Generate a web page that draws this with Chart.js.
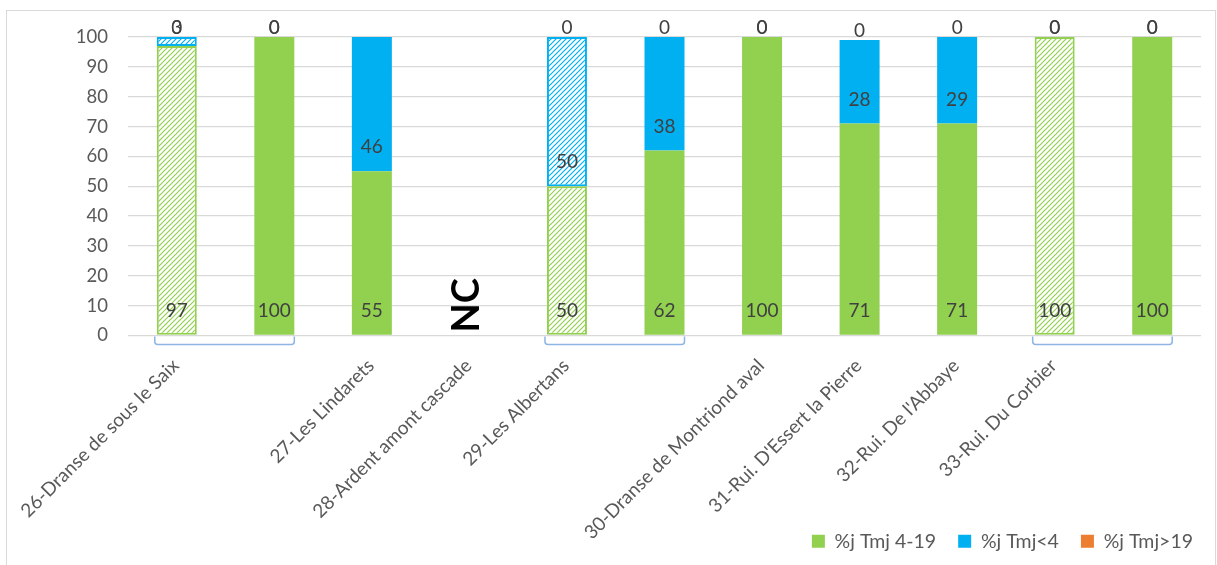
<!DOCTYPE html>
<html>
<head>
<meta charset="utf-8">
<script src="https://cdn.jsdelivr.net/npm/chart.js@4.4.1/dist/chart.umd.min.js"></script>
<style>
  html, body { margin: 0; padding: 0; background: #fff; }
  #frame { position: absolute; left: 6px; top: 10px; width: 1208px; height: 560px; border: 1px solid #d9d9d9; }
  #wrap { position: absolute; left: 0; top: 0; width: 1217px; height: 565px; }
</style>
</head>
<body>
<div id="frame"></div>
<div id="wrap"><canvas id="chart" width="1217" height="565"></canvas></div>
<script>
// stations (blank = second bar of the same station)
const categories = [
  '26-Dranse de sous le Saix', '', '27-Les Lindarets', '28-Ardent amont cascade',
  '29-Les Albertans', '', '30-Dranse de Montriond aval', "31-Rui. D'Essert la Pierre",
  "32-Rui. De l'Abbaye", '33-Rui. Du Corbier', ''
];
const pctMid  = [97, 100, 55, null, 50, 62, 100, 71, 71, 100, 100];   // %j Tmj 4-19
const pctCold = [3, 0, 46, null, 50, 38, 0, 28, 29, 0, 0];            // %j Tmj<4
const pctHot  = [0, 0, null, null, 0, 0, 0, 0, 0, 0, 0];              // %j Tmj>19
const hatched = [true, false, false, false, true, false, false, false, false, true, false];
const bracketGroups = [[0, 1], [4, 5], [9, 10]];
const seriesNames = ['%j Tmj 4-19', '%j Tmj<4', '%j Tmj>19'];
const seriesColors = ['#92D050', '#00B0F0', '#ED7D31'];
const missingText = 'NC';

const FONT = 'Lato, "Open Sans", sans-serif';

function hatch(color) {
  const c = document.createElement('canvas');
  c.width = 5; c.height = 5;
  const g = c.getContext('2d');
  g.fillStyle = '#fff';
  g.fillRect(0, 0, 5, 5);
  g.strokeStyle = color;
  g.lineWidth = 1.2;
  g.beginPath();
  g.moveTo(0, 5); g.lineTo(5, 0);
  g.moveTo(-1, 1); g.lineTo(1, -1);
  g.moveTo(4, 6); g.lineTo(6, 4);
  g.stroke();
  return g.createPattern(c, 'repeat');
}

function makeSet(i, data) {
  const solid = seriesColors[i];
  const pattern = hatch(solid);
  return {
    label: seriesNames[i],
    data: data,
    backgroundColor: ctx => hatched[ctx.dataIndex] ? pattern : solid,
    borderColor: solid,
    borderWidth: ctx => hatched[ctx.dataIndex] ? 2 : 0,
    borderSkipped: false,
    categoryPercentage: 1,
    barPercentage: 0.41
  };
}

// value labels, NC mark and group brackets
const annotate = {
  id: 'annotate',
  afterLayout(chart) {
    // let the slanted labels run down beside the legend, and push the legend to the right
    chart.scales.x.bottom = chart.height;
    chart.legend.right = chart.width - 2;
  },
  afterDatasetsDraw(chart) {
    const ctx = chart.ctx;
    const yScale = chart.scales.y;
    const y0 = yScale.getPixelForValue(0);
    ctx.save();

    // brackets under the paired bars
    const m0 = chart.getDatasetMeta(0);
    ctx.strokeStyle = '#8EB4E3';
    ctx.lineWidth = 1.5;
    bracketGroups.forEach(([a, b]) => {
      const ea = m0.data[a], eb = m0.data[b];
      const x1 = ea.x - ea.width / 2 - 2, x2 = eb.x + eb.width / 2;
      const yb = y0 + 9, r = 3;
      ctx.beginPath();
      ctx.moveTo(x1, y0 + 1);
      ctx.lineTo(x1, yb - r);
      ctx.quadraticCurveTo(x1, yb, x1 + r, yb);
      ctx.lineTo(x2 - r, yb);
      ctx.quadraticCurveTo(x2, yb, x2, yb - r);
      ctx.lineTo(x2, y0 + 1);
      ctx.stroke();
    });

    // values, "inside base"
    ctx.font = '19px ' + FONT;
    ctx.fillStyle = '#404040';
    ctx.textAlign = 'center';
    ctx.textBaseline = 'middle';
    chart.data.datasets.forEach((ds, i) => {
      const meta = chart.getDatasetMeta(i);
      meta.data.forEach((el, j) => {
        const v = ds.data[j];
        if (v === null) return;
        const ty = Math.max(el.base - 24, el.y - 9);
        ctx.fillText(String(v), el.x, ty);
      });
    });

    // NC for stations without data
    ctx.font = 'bold 38px ' + FONT;
    ctx.fillStyle = '#000';
    ctx.textAlign = 'left';
    pctMid.forEach((v, j) => {
      if (v !== null) return;
      const x = chart.scales.x.getPixelForValue(j);
      ctx.save();
      ctx.translate(x - 3, y0 - 3);
      ctx.rotate(-Math.PI / 2);
      ctx.fillText(missingText, 0, 0);
      ctx.restore();
    });
    ctx.restore();
  }
};

new Chart(document.getElementById('chart'), {
  type: 'bar',
  data: {
    labels: categories,
    datasets: [makeSet(0, pctMid), makeSet(1, pctCold), makeSet(2, pctHot)]
  },
  options: {
    responsive: false,
    animation: false,
    layout: { padding: { top: 37, right: 16, left: 0, bottom: 4 } },
    plugins: {
      tooltip: { enabled: false },
      legend: {
        position: 'bottom',
        align: 'end',
        labels: {
          boxWidth: 13,
          boxHeight: 13,
          padding: 22,
          color: '#595959',
          font: { family: FONT, size: 19.5 },
          generateLabels: chart => Chart.defaults.plugins.legend.labels.generateLabels(chart)
            .map((item, i) => Object.assign(item, {
              fillStyle: seriesColors[i], strokeStyle: seriesColors[i], lineWidth: 0
            }))
        }
      }
    },
    scales: {
      x: {
        stacked: true,
        grid: { display: false },
        border: { display: false },
        ticks: {
          autoSkip: false,
          minRotation: 45,
          maxRotation: 45,
          padding: 11,
          labelOffset: -1,
          color: '#595959',
          font: { family: FONT, size: 19 }
        },
        afterFit: s => { s.height = 174; s.paddingLeft = 0; s.paddingRight = 0; }
      },
      y: {
        stacked: true,
        min: 0,
        max: 100,
        ticks: {
          stepSize: 10,
          padding: 20,
          color: '#595959',
          font: { family: FONT, size: 18.5 }
        },
        grid: { color: '#D9D9D9', lineWidth: 1.3, drawTicks: false },
        border: { display: false },
        afterFit: s => { s.width = 128; }
      }
    }
  },
  plugins: [annotate]
});
</script>
</body>
</html>
